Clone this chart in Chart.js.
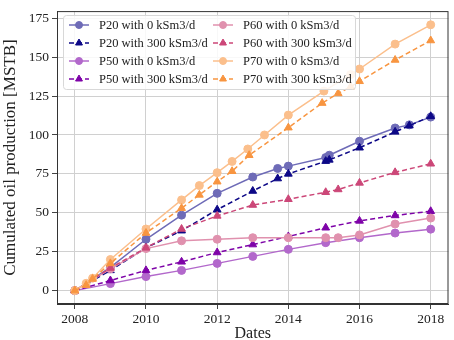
<!DOCTYPE html>
<html>
<head>
<meta charset="utf-8">
<script src="https://cdn.jsdelivr.net/npm/chart.js@4/dist/chart.umd.min.js"></script>
<style>
  html, body { margin: 0; padding: 0; background: #fff; }
  #wrap { width: 454px; height: 340px; }
</style>
</head>
<body>
<div id="wrap"><canvas id="chart" width="454" height="340"></canvas></div>
<script>
// Tick labels
const xTicks = [2008, 2010, 2012, 2014, 2016, 2018];
const yTicks = [0, 25, 50, 75, 100, 125, 150, 175];

// Series (dates as decimal years, cumulated oil in MSTB)
const p20Dates = [2008, 2009, 2010, 2011, 2012, 2013, 2013.7, 2014, 2015.05, 2015.15, 2016, 2017, 2017.4, 2018];
const p20Zero  = [0, 15, 33, 48.5, 62.5, 73, 78.5, 80, 85.5, 87, 96, 104.5, 106.5, 111.5];
const p20High  = [0, 13, 27.5, 38.5, 52, 64, 72, 75, 83.2, 84, 91.8, 102, 106, 112];

const p50Dates = [2008, 2009, 2010, 2011, 2012, 2013, 2014, 2015.05, 2016, 2017, 2018];
const p50Zero  = [0, 4.5, 9, 13, 17.5, 22, 26.5, 30.8, 34, 37, 39.5];
const p50High  = [0, 6.5, 13, 18.5, 24.5, 29.6, 34.8, 40.4, 44.8, 48.3, 51];

const p60Dates = [2008, 2009, 2010, 2011, 2012, 2013, 2014, 2015.05, 2015.4, 2016, 2017, 2018];
const p60Zero  = [0, 14, 27, 32, 33, 34, 34, 34, 34, 35.8, 42.8, 46.6];
const p60High  = [0, 14.5, 27.5, 39.6, 48, 55, 58.7, 63.2, 65, 69.2, 76, 81.5];

const p70ZeroDates = [2008, 2008.32, 2008.5, 2009, 2010, 2011, 2011.5, 2012, 2012.42, 2012.86, 2013.33, 2014, 2015, 2015.75, 2016, 2017, 2018];
const p70Zero      = [0, 4.7, 8, 20, 39.6, 58.3, 67.5, 75.8, 83, 91, 100, 112.8, 128.2, 138.8, 142.4, 158.4, 170.8];
const p70HighDates = [2008, 2008.32, 2008.5, 2009, 2010, 2011, 2011.5, 2012, 2012.42, 2012.9, 2014, 2014.95, 2015.4, 2015.75, 2016, 2017, 2018];
const p70High      = [0, 3.5, 7.5, 17.5, 37, 53, 61.5, 70, 76.7, 87, 104.7, 120.5, 126.7, 131, 134.5, 148.2, 160.7];

const SERIF = '"Liberation Serif", "DejaVu Serif", serif';

function pts(dates, vals) {
  return dates.map((d, i) => ({ x: d, y: vals[i] }));
}

// plasma-like colours; the "0 kSm3/d" runs are the same hue, faded (pre-blended on white)
function line(label, dates, vals, color, dashed) {
  return {
    label: label,
    data: pts(dates, vals),
    borderColor: color,
    backgroundColor: color,
    pointBackgroundColor: color,
    pointBorderColor: color,
    borderWidth: 1.5,
    pointBorderWidth: 1,
    borderDash: dashed ? [5, 3] : [],
    pointStyle: dashed ? 'triangle' : 'circle',
    pointRadius: dashed ? 4.5 : 4,
    tension: 0
  };
}

const datasets = [
  line('P20 with 0 kSm3/d', p20Dates, p20Zero, '#6e6bb7', false),
  line('P20 with 300 kSm3/d', p20Dates, p20High, '#0d0887', true),
  line('P50 with 0 kSm3/d', p50Dates, p50Zero, '#b268cb', false),
  line('P50 with 300 kSm3/d', p50Dates, p50High, '#7e03a8', true),
  line('P60 with 0 kSm3/d', p60Dates, p60Zero, '#e091ae', false),
  line('P60 with 300 kSm3/d', p60Dates, p60High, '#cc4778', true),
  line('P70 with 0 kSm3/d', p70ZeroDates, p70Zero, '#fbbf8c', false),
  line('P70 with 300 kSm3/d', p70HighDates, p70High, '#f89540', true)
];
// later series drawn on top
datasets.forEach((d, i) => { d.order = datasets.length - 1 - i; });

// frame around the plot area
const framePlugin = {
  id: 'frame',
  afterDatasetsDraw(chart) {
    const a = chart.chartArea, ctx = chart.ctx;
    ctx.save();
    ctx.strokeStyle = '#333';
    ctx.lineWidth = 1;
    ctx.strokeRect(a.left + 0.5, a.top + 0.5, a.right - a.left - 1, a.bottom - a.top - 1);
    ctx.restore();
  }
};

// two-column legend, column-major like matplotlib ncol=2
const legendPlugin = {
  id: 'boxLegend',
  afterDraw(chart) {
    const ctx = chart.ctx;
    const box = { x: 63, y: 15, w: 292, h: 74 };
    const cols = [69, 213];
    const rowY = [25, 43, 61, 79];
    ctx.save();
    ctx.fillStyle = 'rgba(255,255,255,0.85)';
    ctx.strokeStyle = '#d8d8d8';
    ctx.lineWidth = 1;
    ctx.beginPath();
    ctx.roundRect(box.x + 0.5, box.y + 0.5, box.w, box.h, 3);
    ctx.fill();
    ctx.stroke();
    ctx.font = '12.5px ' + SERIF;
    ctx.textBaseline = 'middle';
    chart.data.datasets.forEach((ds, i) => {
      const c = Math.floor(i / 4), r = i % 4;
      const x0 = cols[c], y = rowY[r];
      ctx.strokeStyle = ds.borderColor;
      ctx.lineWidth = ds.borderWidth;
      ctx.setLineDash(ds.borderDash);
      ctx.beginPath();
      ctx.moveTo(x0, y);
      ctx.lineTo(x0 + 20, y);
      ctx.stroke();
      ctx.setLineDash([]);
      ctx.fillStyle = ds.pointBackgroundColor;
      ctx.strokeStyle = ds.pointBorderColor;
      ctx.lineWidth = 1;
      Chart.helpers.drawPoint(ctx, {
        pointStyle: ds.pointStyle, radius: ds.pointStyle === 'triangle' ? 4 : 3.5, borderWidth: 1, rotation: 0
      }, x0 + 10, y);
      ctx.fillStyle = '#222';
      ctx.fillText(ds.label, x0 + 30, y + 1);
    });
    ctx.restore();
  }
};

new Chart(document.getElementById('chart').getContext('2d'), {
  type: 'line',
  data: { datasets: datasets },
  plugins: [framePlugin, legendPlugin],
  options: {
    responsive: false,
    animation: false,
    layout: { padding: { left: 0, right: 2, top: 8, bottom: 0 } },
    plugins: { legend: { display: false }, tooltip: { enabled: false } },
    scales: {
      x: {
        type: 'linear',
        min: 2007.5,
        max: 2018.5,
        afterBuildTicks: s => { s.ticks = xTicks.map(v => ({ value: v })); },
        afterFit: s => { s.height = 36; },
        grid: { color: '#d0d0d0', lineWidth: 1, tickLength: 5, tickColor: '#444' },
        border: { color: '#333' },
        ticks: {
          color: '#222', padding: 2, maxRotation: 0,
          font: { family: SERIF, size: 13.5 },
          callback: v => String(v)
        },
        title: {
          display: true, text: 'Dates', color: '#222',
          font: { family: SERIF, size: 16, lineHeight: 0.8 },
          padding: { top: 0, bottom: 0 }
        }
      },
      y: {
        type: 'linear',
        min: -8.6,
        max: 179.6,
        afterBuildTicks: s => { s.ticks = yTicks.map(v => ({ value: v })); },
        afterFit: s => { s.width = 57; },
        grid: { color: '#d0d0d0', lineWidth: 1, tickLength: 5, tickColor: '#444' },
        border: { color: '#333' },
        ticks: {
          color: '#222', padding: 3,
          font: { family: SERIF, size: 13.5 },
          callback: v => String(v)
        },
        title: {
          display: true, text: 'Cumulated oil production [MSTB]', color: '#222',
          font: { family: SERIF, size: 17, lineHeight: 1.2 },
          padding: { top: 0, bottom: 0 }
        }
      }
    }
  }
});
</script>
</body>
</html>
